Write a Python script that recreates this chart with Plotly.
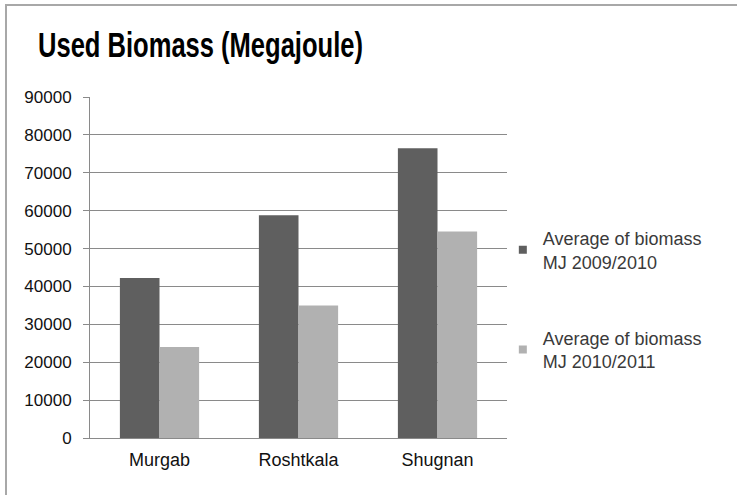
import plotly.graph_objects as go

# data
regions = ["Murgab", "Roshtkala", "Shugnan"]
biomass_2009_2010 = [42200, 58800, 76500]
biomass_2010_2011 = [24000, 35000, 54500]
series_names = [
    "Average of biomass<br>MJ 2009/2010",
    "Average of biomass<br>MJ 2010/2011",
]
series_colors = ["#5f5f5f", "#b1b1b1"]
y_ticks = [0, 10000, 20000, 30000, 40000, 50000, 60000, 70000, 80000, 90000]

W, H = 737, 495
FONT = "Liberation Sans, Arial, sans-serif"
TITLE_X = 38
TITLE_SQUEEZE = 0.73

fig = go.Figure()
for i, values in enumerate([biomass_2009_2010, biomass_2010_2011]):
    fig.add_trace(
        go.Bar(
            x=regions,
            y=values,
            name=series_names[i],
            marker={"color": series_colors[i], "line": {"width": 0}},
            legendgroup=str(i),
            showlegend=False,
        )
    )
    # legend entry with a small square, like the original
    fig.add_trace(
        go.Scatter(
            x=[None],
            y=[None],
            mode="markers",
            name=series_names[i],
            marker={"symbol": "square", "size": 8, "color": series_colors[i]},
            legendgroup=str(i),
            hoverinfo="skip",
        )
    )

fig.update_layout(
    width=W,
    height=H,
    margin={"l": 90, "r": 230, "t": 97, "b": 57},
    plot_bgcolor="white",
    paper_bgcolor="white",
    barmode="group",
    bargap=0.43,
    bargroupgap=0,
    font={"family": FONT, "color": "#111111"},
    title={
        "text": "Used Biomass (Megajoule)",
        "font": {"family": FONT, "size": 35, "color": "#000000", "weight": "bold"},
        "x": TITLE_X / W,
        "xanchor": "left",
        "xref": "container",
        "y": 1 - 45 / H,
        "yanchor": "middle",
    },
    legend={
        "x": 0.99,
        "xanchor": "left",
        "y": 0.405,
        "yanchor": "middle",
        "font": {"family": FONT, "size": 18, "color": "#3a3a3a"},
        "tracegroupgap": 50,
        "bgcolor": "rgba(0,0,0,0)",
    },
    shapes=[
        {
            "type": "rect",
            "xref": "paper",
            "yref": "paper",
            "x0": (6 - 90) / 417,
            "x1": (745 - 90) / 417,
            "y0": (438 - 500) / 341,
            "y1": (438 - 5) / 341,
            "line": {"color": "#a8a8a8", "width": 2},
            "layer": "below",
        }
    ],
)

fig.update_xaxes(
    type="category",
    showline=True,
    linecolor="#8a8a8a",
    linewidth=1,
    ticks="",
    ticklabelstandoff=5,
    tickfont={"size": 18, "color": "#111111"},
    showgrid=False,
)

fig.update_yaxes(
    range=[0, 90000],
    tickvals=y_ticks,
    ticktext=[str(v) for v in y_ticks],
    showline=True,
    linecolor="#8a8a8a",
    linewidth=1,
    ticks="outside",
    ticklen=6,
    tickcolor="#8a8a8a",
    ticklabelstandoff=8,
    tickfont={"size": 17, "color": "#111111"},
    showgrid=True,
    gridcolor="#8a8a8a",
    gridwidth=1,
    zeroline=False,
)

# body margin off, and squeeze the title horizontally like the condensed original
post = (
    "document.body.style.margin = '0';"
    "var t = document.querySelector('.gtitle');"
    "if (t) { t.setAttribute('transform', "
    f"'translate({TITLE_X},0) scale({TITLE_SQUEEZE},1) translate(-{TITLE_X},0)'); }}"
)
fig.write_html("out.html", config={"displayModeBar": False}, post_script=post)
